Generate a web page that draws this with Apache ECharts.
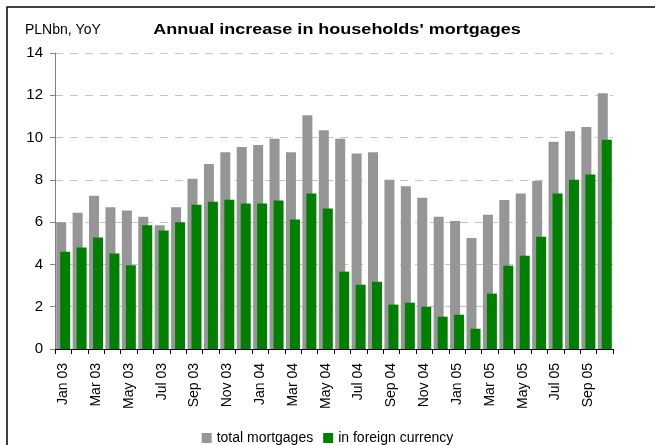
<!DOCTYPE html>
<html>
<head>
<meta charset="utf-8">
<script src="https://cdn.jsdelivr.net/npm/echarts@6/dist/echarts.min.js"></script>
<style>
  html, body { margin: 0; padding: 0; background: #fff; }
  #chart { width: 655px; height: 445px; }
</style>
</head>
<body>
<div id="chart"></div>
<script>
// Monthly categories, Jan 03 – Oct 05
const months = [
  'Jan 03','Feb 03','Mar 03','Apr 03','May 03','Jun 03','Jul 03','Aug 03','Sep 03','Oct 03','Nov 03','Dec 03',
  'Jan 04','Feb 04','Mar 04','Apr 04','May 04','Jun 04','Jul 04','Aug 04','Sep 04','Oct 04','Nov 04','Dec 04',
  'Jan 05','Feb 05','Mar 05','Apr 05','May 05','Jun 05','Jul 05','Aug 05','Sep 05','Oct 05'
];

// Annual increase, PLN bn
const totalMortgages = [
  6.0, 6.45, 7.25, 6.7, 6.55, 6.25, 5.85, 6.7, 8.05, 8.75, 9.3, 9.55,
  9.65, 9.95, 9.3, 11.05, 10.35, 9.95, 9.25, 9.3, 8.0, 7.7, 7.15, 6.25,
  6.05, 5.25, 6.35, 7.05, 7.35, 7.95, 9.8, 10.3, 10.5, 12.1
];
const foreignCurrency = [
  4.6, 4.8, 5.27, 4.52, 3.96, 5.85, 5.6, 6.0, 6.82, 6.96, 7.06, 6.88,
  6.88, 7.02, 6.12, 7.35, 6.65, 3.66, 3.04, 3.18, 2.1, 2.19, 2.0, 1.53,
  1.62, 0.96, 2.62, 3.94, 4.41, 5.31, 7.35, 8.01, 8.25, 9.9
];

const yTicks = { min: 0, max: 14, interval: 2 };
const seriesNames = ['total mortgages', 'in foreign currency'];
const FONT = '"Liberation Sans", Arial, sans-serif';

const chart = echarts.init(document.getElementById('chart'), null, { renderer: 'canvas' });

chart.setOption({
  animation: false,
  backgroundColor: '#ffffff',
  textStyle: { fontFamily: FONT },
  graphic: [
    {
      type: 'rect',
      shape: { x: 7, y: 7, width: 720, height: 520 },
      style: { fill: 'none', stroke: '#000', lineWidth: 1.5 },
      silent: true
    },
    {
      type: 'text',
      x: 25, y: 30,
      style: {
        text: 'PLNbn, YoY', fill: '#000',
        font: '14px ' + FONT, textVerticalAlign: 'middle'
      }
    },
    {
      type: 'text',
      x: 337, y: 30,
      scaleX: 1.2,
      style: {
        text: "Annual increase in households' mortgages", fill: '#000',
        font: 'bold 15px ' + FONT, textAlign: 'center', textVerticalAlign: 'middle'
      }
    }
  ],
  legend: {
    data: seriesNames,
    top: 431,
    left: 'center',
    padding: 0,
    itemWidth: 10,
    itemHeight: 10,
    itemGap: 10,
    icon: 'rect',
    textStyle: { fontSize: 14, color: '#000', fontFamily: FONT }
  },
  grid: { left: 55, top: 53, width: 558, height: 296, containLabel: false },
  xAxis: {
    type: 'category',
    data: months,
    axisLine: { lineStyle: { color: '#000', width: 1 } },
    axisTick: { show: true, interval: 0, length: 5, lineStyle: { color: '#000' } },
    axisLabel: {
      interval: 1, rotate: 90, margin: 14,
      fontSize: 14, color: '#000', fontFamily: FONT
    }
  },
  yAxis: {
    type: 'value',
    min: yTicks.min, max: yTicks.max, interval: yTicks.interval,
    axisLine: { show: true, lineStyle: { color: '#808080', width: 1 } },
    axisTick: { show: true, length: 5, lineStyle: { color: '#808080' } },
    axisLabel: { margin: 12, fontSize: 15, color: '#000', fontFamily: FONT },
    splitLine: { lineStyle: { color: '#c4c4c4', type: [8, 7], width: 1 } }
  },
  series: [
    {
      name: seriesNames[0], type: 'bar', data: totalMortgages,
      barWidth: 10, barGap: '-60%',
      itemStyle: { color: '#969696' }
    },
    {
      name: seriesNames[1], type: 'bar', data: foreignCurrency,
      barWidth: 10, barGap: '-60%',
      itemStyle: { color: '#008000' }
    }
  ]
});
</script>
</body>
</html>
